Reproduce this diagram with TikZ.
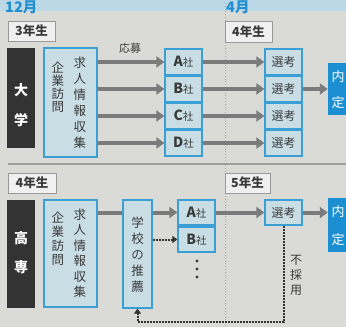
\documentclass[tikz,border=0pt]{standalone}
\usepackage{fontspec}
\setmainfont{Noto Sans CJK JP}
\usetikzlibrary{arrows.meta}
\definecolor{bg}{HTML}{DADAD6}
\definecolor{band}{HTML}{BCD8E6}
\definecolor{hblue}{HTML}{1E8FD0}
\definecolor{boxfill}{HTML}{C9DDE5}
\definecolor{boxline}{HTML}{3B9ED5}
\definecolor{darkbar}{HTML}{333333}
\definecolor{agray}{HTML}{7B7B7B}
\definecolor{nblue}{HTML}{1C8FD2}
\definecolor{txt}{HTML}{3A3A3A}
\tikzset{
  ibox/.style={draw=boxline, fill=boxfill, line width=1.3pt, inner sep=0pt},
  ybox/.style={draw=gray!80, fill=white!88!gray, line width=0.8pt, inner sep=0pt,
    text=txt, font=\fontsize{12.5}{13}\selectfont\bfseries},
  dbar/.style={fill=darkbar, inner sep=0pt},
  nbox/.style={fill=nblue, inner sep=0pt},
  garrow/.style={draw=agray, line width=4pt, -{Triangle[length=8pt,width=11pt]}},
  gline/.style={draw=agray, line width=4pt},
  darrow/.style={draw=black!80, line width=2pt, densely dotted, -{Triangle[length=5pt,width=7pt]}},
  vtxt/.style={align=center, inner sep=0pt, text=txt},
  co/.style={inner sep=0pt, text=txt},
  mhead/.style={anchor=base west, inner sep=0pt, text=hblue, font=\fontsize{14.5}{15}\selectfont\bfseries},
}
\newcommand{\sha}[1]{{\fontsize{14}{14}\selectfont\bfseries #1}{\fontsize{10.5}{11}\selectfont 社}}
\begin{document}
\begin{tikzpicture}[x=1pt,y=-1pt]
\useasboundingbox (0,0) rectangle (346,327);
\clip (0,0) rectangle (346,327);
\fill[bg] (0,0) rectangle (346,327);
\fill[band] (0,0) rectangle (346,11);
\node[mhead] (m12) at (5,12.5) {12月};
\node[mhead] (m4) at (226,12.5) {4月};
\coordinate (vt) at (225,3);
\coordinate (vb) at (225,327);
\draw[gray!70, line width=0.8pt, dotted] (vt) -- (vb);
\coordinate (sl) at (8,164);
\coordinate (sr) at (346,164);
\draw[gray!75, line width=1.2pt] (sl) -- (sr);

% year boxes
\node[ybox, minimum width=47pt, minimum height=20pt] (y3) at (31.5,31) {3年生};
\node[ybox, minimum width=47pt, minimum height=21pt] (y4a) at (248.5,31.5) {4年生};
\node[ybox, minimum width=48pt, minimum height=20pt] (y4b) at (32,183) {4年生};
\node[ybox, minimum width=45pt, minimum height=20pt] (y5) at (247.5,183) {5年生};

% university section
\node[dbar, minimum width=28pt, minimum height=100pt] (dai) at (21,98) {};
\node[vtxt, text=white, font=\fontsize{14}{30}\selectfont\bfseries] (daitxt) at (21,105) {大\\学};
\node[ibox, minimum width=53pt, minimum height=109pt] (info1) at (70.5,102.5) {};
\node[vtxt, font=\fontsize{12.5}{16}\selectfont] (q1) at (80,103) {求\\人\\情\\報\\収\\集};
\node[vtxt, font=\fontsize{12.5}{13}\selectfont] (k1) at (58,87.5) {企\\業\\訪\\問};

\node[ibox, minimum width=37pt, minimum height=26pt, text=txt] (A1) at (183.5,62) {\sha{A}};
\node[ibox, minimum width=37pt, minimum height=26pt, text=txt] (B1) at (183.5,89) {\sha{B}};
\node[ibox, minimum width=37pt, minimum height=26pt, text=txt] (C1) at (183.5,116) {\sha{C}};
\node[ibox, minimum width=37pt, minimum height=26pt, text=txt] (D1) at (183.5,143) {\sha{D}};
\foreach \n/\yy in {S1/62,S2/89,S3/116,S4/143}
  \node[ibox, minimum width=37pt, minimum height=26pt, text=txt, font=\fontsize{12}{12}\selectfont] (\n) at (283.5,\yy) {選考};
\node[nbox, minimum width=24pt, minimum height=52pt] (N1) at (340,89) {};
\node[vtxt, text=white, font=\fontsize{13}{26}\selectfont] (N1t) at (338,90) {内\\定};

\node[co, font=\fontsize{11}{11}\selectfont] (oubo) at (130,48) {応募};
\foreach \n in {A1,B1,C1,D1}
  \draw[garrow] (info1.east |- \n) -- (\n.west);
\draw[garrow] (A1) -- (S1);
\draw[garrow] (B1) -- (S2);
\draw[garrow] (C1) -- (S3);
\draw[garrow] (D1) -- (S4);
\draw[garrow] (S2.east) -- (N1.west |- S2);

% kosen section
\node[dbar, minimum width=28pt, minimum height=108pt] (kos) at (21,254) {};
\node[vtxt, text=white, font=\fontsize{14}{29}\selectfont\bfseries] (kostxt) at (21,252.5) {高\\専};
\node[ibox, minimum width=53pt, minimum height=107pt] (info2) at (70.5,253.5) {};
\node[vtxt, font=\fontsize{12.5}{15.5}\selectfont] (q2) at (80,253.5) {求\\人\\情\\報\\収\\集};
\node[vtxt, font=\fontsize{12.5}{14}\selectfont] (k2) at (58,239) {企\\業\\訪\\問};
\node[ibox, minimum width=29pt, minimum height=108pt] (sui) at (137.5,254) {};
\node[vtxt, font=\fontsize{12.5}{16}\selectfont] (suit) at (137.5,254.5) {学\\校\\の\\推\\薦};

\node[ibox, minimum width=37pt, minimum height=25pt, text=txt] (A2) at (196.5,212.5) {\sha{A}};
\node[ibox, minimum width=37pt, minimum height=25pt, text=txt] (B2) at (196.5,239.5) {\sha{B}};
\fill[black!75] (197,261) circle (1.6pt) (197,269) circle (1.6pt) (197,277) circle (1.6pt);
\node[ibox, minimum width=37pt, minimum height=25pt, text=txt, font=\fontsize{12}{12}\selectfont] (S5) at (283.5,212.5) {選考};
\node[nbox, minimum width=24pt, minimum height=54pt] (N2) at (340,225) {};
\node[vtxt, text=white, font=\fontsize{13}{28}\selectfont] (N2t) at (338,226) {内\\定};

\draw[gline] (info2.east |- A2) -- (sui.west |- A2);
\draw[garrow] (sui.east |- A2) -- (A2.west);
\draw[darrow] (sui.east |- B2) -- (B2.west);
\draw[garrow] (A2) -- (S5);
\draw[garrow] (S5.east) -- (N2.west |- S5);
\coordinate (ret) at (0,322);
\draw[darrow] (S5.south) -- (S5.south |- ret) -- (sui.south |- ret) -- (sui.south);
\node[vtxt, font=\fontsize{12}{15}\selectfont] (fsy) at (296,275) {不\\採\\用};
\end{tikzpicture}
\end{document}
